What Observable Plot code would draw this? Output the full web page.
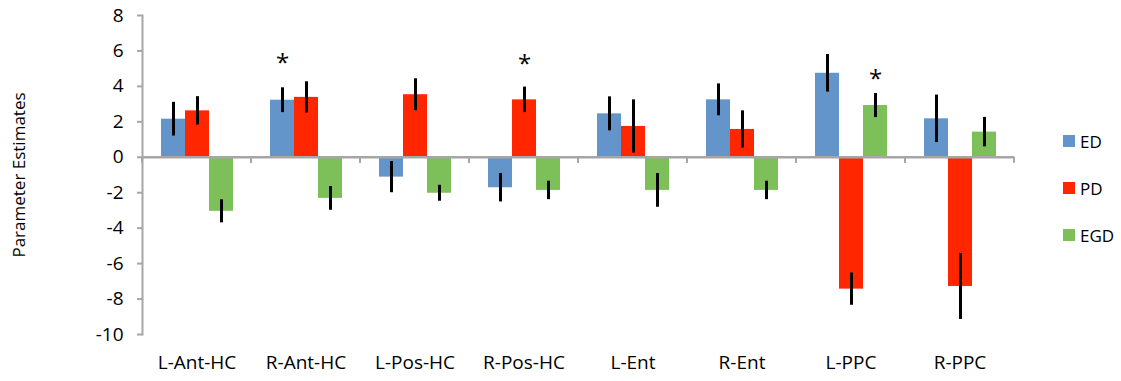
<!DOCTYPE html>
<html>
<head>
<meta charset="utf-8">
<script src="https://cdn.jsdelivr.net/npm/d3@7"></script>
<script src="https://cdn.jsdelivr.net/npm/@observablehq/plot@0.6"></script>
<style>
  body { margin: 0; background: #fff; }
  #wrap { position: relative; width: 1121px; height: 381px; font-family: "Open Sans", sans-serif; color: #000; }
  #ylabel { position: absolute; left: 18px; top: 175px; transform: translate(-50%, -50%) rotate(-90deg); white-space: nowrap; font-size: 17px; }
  .leg { position: absolute; left: 1063px; height: 24px; display: flex; align-items: center; font-size: 17px; }
  .leg span.sw { width: 12px; height: 12px; margin-right: 5px; display: inline-block; }
</style>
</head>
<body>
<div id="wrap">
  <div id="ylabel">Parameter Estimates</div>
</div>
<script>
const categories = ["L-Ant-HC", "R-Ant-HC", "L-Pos-HC", "R-Pos-HC", "L-Ent", "R-Ent", "L-PPC", "R-PPC"];
const seriesNames = ["ED", "PD", "EGD"];
const seriesColors = ["#6395CA", "#FF2600", "#7DC05A"];

const edValues  = [2.15, 3.22, -1.12, -1.72, 2.45, 3.24, 4.74, 2.17];
const edErrors  = [0.95, 0.70, 0.88, 0.80, 0.96, 0.90, 1.06, 1.34];
const pdValues  = [2.62, 3.38, 3.53, 3.24, 1.74, 1.57, -7.44, -7.29];
const pdErrors  = [0.80, 0.88, 0.90, 0.72, 1.50, 1.05, 0.91, 1.86];
const egdValues = [-3.05, -2.32, -2.03, -1.87, -1.87, -1.87, 2.92, 1.42];
const egdErrors = [0.65, 0.67, 0.45, 0.52, 0.95, 0.52, 0.68, 0.83];

const yTicks = [-10, -8, -6, -4, -2, 0, 2, 4, 6, 8];

const starCategories = ["R-Ant-HC", "R-Pos-HC", "L-PPC"];
const starSeries = ["ED", "PD", "EGD"];
const starValues = [5.5, 5.45, 4.6];

const axisGray = "#A6A6A6";

const valueSets = [edValues, pdValues, egdValues];
const errorSets = [edErrors, pdErrors, egdErrors];
const rows = [];
categories.forEach((c, i) => {
  seriesNames.forEach((s, j) => {
    rows.push({category: c, series: s, value: valueSets[j][i], error: errorSets[j][i]});
  });
});
const stars = starCategories.map((c, i) => ({category: c, series: starSeries[i], value: starValues[i]}));

function boundaryTicks(index, scales, values, dimensions) {
  const {marginLeft, marginRight, width} = dimensions;
  const y0 = scales.y(0);
  const g = d3.create("svg:g").attr("stroke", axisGray).attr("stroke-width", 2);
  for (const x of [marginLeft, width - marginRight]) {
    g.append("line").attr("x1", x).attr("x2", x).attr("y1", y0).attr("y2", y0 + 6);
  }
  return g.node();
}

const chart = Plot.plot({
  width: 1121,
  height: 381,
  marginLeft: 142,
  marginRight: 107,
  marginTop: 15,
  marginBottom: 47,
  style: {fontFamily: "Open Sans, sans-serif", fontSize: "19px", color: "black", background: "white", overflow: "visible"},
  fx: {domain: categories, padding: 0, label: null, axis: "bottom", tickSize: 0, tickPadding: 21},
  x: {domain: seriesNames, paddingInner: 0, paddingOuter: 0.77, axis: null},
  y: {domain: [-10, 8], label: null},
  color: {domain: seriesNames, range: seriesColors},
  marks: [
    Plot.barY(rows, {fx: "category", x: "series", y: "value", fill: "series"}),
    Plot.ruleY([0], {stroke: axisGray, strokeWidth: 2.5}),
    boundaryTicks,
    Plot.frame({anchor: "left", facetAnchor: "left", stroke: axisGray, strokeWidth: 2}),
    Plot.axisY({ticks: yTicks, tickFormat: d => String(d), tickSize: 5, tickPadding: 14, stroke: axisGray, strokeWidth: 2, fill: "black", label: null}),
    Plot.ruleX(rows, {fx: "category", x: "series", y1: d => d.value - d.error, y2: d => d.value + d.error, stroke: "black", strokeWidth: 3}),
    Plot.text(stars, {fx: "category", x: "series", y: "value", text: () => "*", fontSize: 24, dy: 4, fill: "black"})
  ]
});

const wrap = document.getElementById("wrap");
wrap.insertBefore(chart, wrap.firstChild);

const legendCenters = [141, 188, 235];
seriesNames.forEach((s, i) => {
  const item = document.createElement("div");
  item.className = "leg";
  item.style.top = (legendCenters[i] - 12) + "px";
  const sw = document.createElement("span");
  sw.className = "sw";
  sw.style.background = seriesColors[i];
  item.appendChild(sw);
  item.appendChild(document.createTextNode(s));
  wrap.appendChild(item);
});
</script>
</body>
</html>
